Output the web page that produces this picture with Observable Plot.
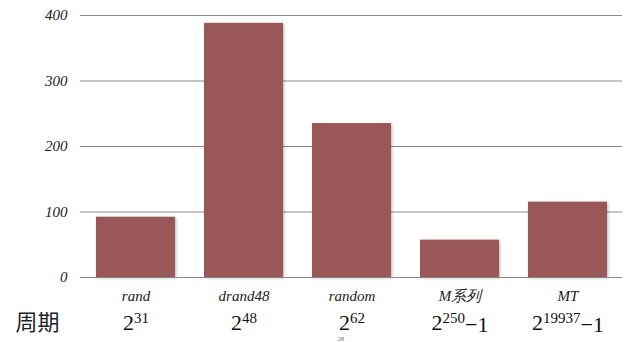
<!DOCTYPE html>
<html>
<head>
<meta charset="utf-8">
<script src="https://cdn.jsdelivr.net/npm/d3@7"></script>
<script src="https://cdn.jsdelivr.net/npm/@observablehq/plot@0.6"></script>
<style>
  html, body { margin: 0; padding: 0; background: #fff; }
  #chart svg { display: block; }
  #chart svg text, #chart svg tspan { font-family: 'Liberation Serif', serif !important; white-space: pre; }
  #chart svg g.cjk text { font-family: 'Noto Sans CJK SC', sans-serif !important; }
</style>
</head>
<body>
<div id="chart"></div>
<script>
const categories = ["rand", "drand48", "random", "M系列", "MT"];
const values = [92, 388, 235, 57, 115];
const periodBase = ["2", "2", "2", "2", "2"];
const periodExp = ["31", "48", "62", "250", "19937"];
const periodSuffix = ["", "", "", "−1", "−1"];
const yTicks = [0, 100, 200, 300, 400];
const rowLabel = "周期";
const pageNote = "28";

const data = categories.map((c, i) => ({
  name: c, value: values[i],
  period: periodBase[i] + "^" + periodExp[i] + "|" + periodSuffix[i]
}));

const plot = Plot.plot({
  width: 626,
  height: 342,
  marginTop: 15,
  marginBottom: 65,
  marginLeft: 80,
  marginRight: 4,
  style: { background: "#fff", overflow: "visible", fontFamily: "Liberation Serif" },
  x: { domain: categories, paddingInner: 0.27, paddingOuter: 0.135, label: null },
  y: { domain: [0, 400], label: null },
  marks: [
    Plot.gridY(yTicks, { stroke: "#8a8a8a", strokeOpacity: 1, strokeWidth: 1 }),
    Plot.barY(data, {
      x: "name", y: "value", fill: "#9a5757",
      imageFilter: "drop-shadow(1.5px 1.5px 1.5px rgba(0,0,0,0.3))"
    }),
    Plot.ruleY([0], { stroke: "#8a8a8a", strokeWidth: 1.2 }),
    Plot.axisY({ ticks: yTicks, tickSize: 0, tickPadding: 13, fontSize: 15, fontStyle: "italic", fill: "#222", fontFamily: "Liberation Serif" }),
    Plot.axisX({ tickSize: 0, tickPadding: 13, fontSize: 15, fontStyle: "italic", fill: "#222", fontFamily: "Liberation Serif" }),
    Plot.text(data, {
      x: "name", y: 0, text: "period", dy: 52, lineAnchor: "bottom",
      fontSize: 22, fill: "#111", className: "period", fontFamily: "Liberation Serif"
    }),
    Plot.text([rowLabel], {
      frameAnchor: "bottom-left", text: d => d, dx: -65, dy: 52, lineAnchor: "bottom",
      textAnchor: "start", fontSize: 22, fill: "#222", className: "cjk", fontFamily: "Noto Sans CJK SC"
    }),
    Plot.text([pageNote], {
      x: () => categories[2], y: 0, text: d => d, dx: -11, dy: 63, lineAnchor: "bottom",
      fontSize: 6, fill: "#666", fontFamily: "Liberation Serif"
    })
  ]
});

const svg = d3.select(plot);
svg.selectAll("g.period text").each(function() {
  const t = d3.select(this);
  const s = t.text();
  const [main, suffix] = s.split("|");
  const [base, exp] = main.split("^");
  t.text(null);
  t.append("tspan").text(base);
  t.append("tspan").attr("dy", "-0.42em").attr("font-size", 15).text(exp);
  if (suffix) t.append("tspan").attr("dy", "0.42em").text(suffix);
});

plot.removeAttribute("class");
plot.setAttribute("font-family", "Liberation Serif");
document.getElementById("chart").append(plot);

function applyFonts() {
  svg.selectAll("text").style("font-family", "'Liberation Serif', serif", "important");
  svg.selectAll("g.cjk text").style("font-family", "'Noto Sans CJK SC', sans-serif", "important");
}
applyFonts();
requestAnimationFrame(applyFonts);
</script>
</body>
</html>
